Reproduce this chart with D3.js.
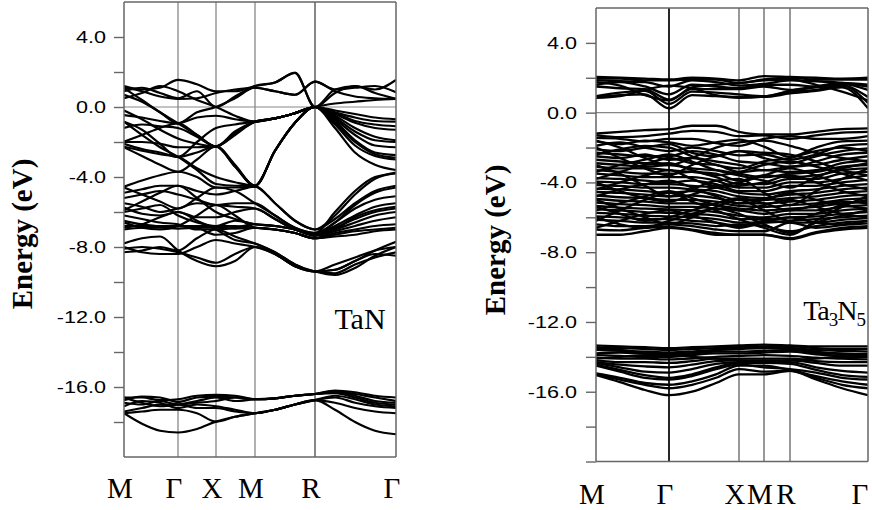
<!DOCTYPE html>
<html><head><meta charset="utf-8">
<script src="https://cdn.jsdelivr.net/npm/d3@7"></script>
<style>body{margin:0;background:#fff}svg{display:block}</style>
</head><body>
<svg id="c" width="872" height="510"></svg>
<script>
// ---------- DATA ----------
const energyDomain = [-20, 6];
const majorTicks = [4, 0, -4, -8, -12, -16];
const minorTicks = [2, -2, -6, -10, -14, -18];

// TaN : k-path M-Γ-X-M-R-Γ
const tanK = [0, 18, 36, 54, 73, 92, 111, 131, 151, 171, 191, 211, 231, 251, 272];
const tanSymK = [0, 54, 92, 131, 191, 272];
const tanSymLabels = ["M", "Γ", "X", "M", "R", "Γ"];
const tanUpperBands = [
  [1.2, 1.0, 1.1, 1.55, 1.3, 0.9, 0.9, 1.2, 1.4, 1.95, 0.0, 1.0, 1.2, 1.0, 1.55],
  [1.1, 0.9, 0.6, 0.46, 0.5, 0.8, 1.0, 1.1, 0.9, 0.7, 1.45, 1.0, 1.1, 1.2, 0.84],
  [0.9, 1.1, 0.8, 0.5, 0.9, 0.0, 0.6, 1.2, 1.4, 1.95, 0.0, 0.8, 1.2, 0.8, 0.46],
  [0.7, 0.3, -0.3, -0.93, -0.3, 0.0, 0.5, 1.1, 0.9, 0.7, 1.45, 0.9, 0.6, 0.5, 0.46],
  [1.07, 0.4, -0.3, -0.93, -1.6, -2.25, -1.5, -0.84, -0.65, -0.35, 0.0, -0.3, -0.6, -0.8, -0.84],
  [-0.46, -0.6, -0.8, -0.93, -0.6, -0.5, -0.7, -0.84, -0.65, -0.35, 0.0, -0.4, -0.9, -1.2, -1.3],
  [-0.84, -1.3, -2.1, -2.85, -2.0, -1.2, -1.0, -0.84, -0.65, -0.35, 0.0, -0.5, -1.2, -1.7, -1.9],
  [-1.2, -1.0, -1.1, -1.2, -1.7, -2.25, -1.6, -0.84, -0.65, -0.35, 0.0, -0.6, -1.4, -1.9, -2.0],
  [-2.0, -2.0, -2.1, -2.3, -2.3, -2.25, -3.4, -4.5, -2.5, -0.9, 0.0, -0.8, -1.9, -2.6, -2.75],
  [-2.27, -2.5, -2.7, -2.85, -3.5, -4.0, -4.3, -4.5, -2.5, -0.9, 0.0, -1.0, -2.2, -2.8, -3.0],
  [-2.1, -2.4, -2.6, -2.85, -2.6, -2.25, -3.3, -4.5, -2.5, -0.9, 0.0, -1.2, -2.6, -3.3, -3.6],
  [-1.98, -1.6, -1.2, -0.93, -1.6, -2.25, -1.5, -0.84, -0.65, -0.35, 0.0, -0.2, -0.4, -0.6, -0.7],
  [-0.2, -0.7, -1.3, -1.8, -2.1, -2.25, -1.4, -0.84, -0.65, -0.35, 0.0, -0.35, -0.8, -1.0, -1.1],
  [-2.3, -2.8, -3.3, -3.7, -3.0, -2.25, -3.4, -4.5, -2.5, -0.9, 0.0, -0.9, -2.0, -2.7, -2.9],
  [-0.84, -1.6, -2.3, -2.85, -3.6, -4.4, -4.5, -4.5, -2.5, -0.9, 0.0, -0.7, -1.6, -2.2, -2.3],
  [0.5, 0.8, 1.2, 0.9, 0.4, 0.0, -0.5, -0.84, -0.65, -0.35, 0.0, 0.2, 0.3, 0.4, 0.46]
];
const tanMiddleBands = [
  [-4.55, -4.2, -3.9, -3.7, -4.0, -4.6, -4.6, -4.55, -5.5, -6.5, -7.0, -6.2, -5.0, -4.1, -3.75],
  [-4.9, -4.7, -4.5, -4.5, -4.8, -5.0, -4.8, -4.55, -5.5, -6.5, -7.0, -6.4, -5.5, -4.8, -4.5],
  [-5.2, -5.0, -4.8, -5.0, -5.3, -5.6, -5.5, -5.5, -6.2, -6.9, -7.2, -6.6, -5.8, -5.3, -5.1],
  [-5.5, -5.7, -6.0, -5.8, -5.5, -5.6, -5.7, -5.8, -6.4, -7.0, -7.3, -6.8, -6.2, -5.7, -5.5],
  [-5.75, -6.1, -6.2, -6.0, -6.3, -6.3, -6.0, -5.8, -6.4, -7.0, -7.3, -6.9, -6.4, -6.0, -5.8],
  [-6.0, -5.8, -5.6, -6.2, -6.6, -6.8, -6.5, -6.7, -6.8, -7.0, -7.35, -7.0, -6.6, -6.2, -6.0],
  [-6.2, -6.4, -6.6, -6.7, -7.0, -7.0, -6.9, -6.7, -6.8, -7.0, -7.35, -7.1, -6.8, -6.5, -6.3],
  [-6.5, -6.7, -6.8, -6.8, -6.9, -7.3, -7.2, -6.9, -7.0, -7.2, -7.5, -7.2, -7.0, -6.8, -6.7],
  [-6.8, -6.8, -6.8, -6.8, -6.8, -6.8, -6.8, -6.9, -7.0, -7.2, -7.5, -7.3, -7.1, -7.0, -6.9],
  [-6.9, -6.7, -6.3, -6.0, -6.5, -7.0, -7.6, -7.8, -8.3, -9.0, -9.4, -9.6, -9.2, -8.5, -8.0],
  [-7.8, -7.5, -7.4, -8.2, -8.8, -9.1, -8.8, -8.0, -8.4, -9.1, -9.4, -9.5, -9.0, -8.6, -8.3],
  [-8.0, -8.3, -8.4, -8.4, -8.0, -7.6, -7.8, -8.0, -8.4, -9.1, -9.4, -9.3, -8.8, -8.4, -8.5],
  [-8.3, -8.2, -8.0, -8.2, -7.5, -7.0, -7.4, -7.8, -8.3, -9.0, -9.4, -9.3, -8.8, -8.2, -7.7],
  [-4.6, -5.0, -5.4, -5.8, -5.2, -4.6, -4.8, -5.5, -6.2, -6.9, -7.2, -6.0, -4.8, -4.0, -3.8],
  [-5.9, -5.4, -4.9, -4.5, -5.2, -6.0, -6.4, -6.7, -6.8, -7.0, -7.35, -6.6, -5.6, -4.9, -4.6],
  [-6.6, -6.9, -7.0, -6.8, -6.2, -5.6, -6.2, -6.9, -7.0, -7.2, -7.5, -7.0, -6.3, -5.9, -5.7],
  [-7.0, -6.9, -6.9, -6.95, -6.9, -6.9, -6.95, -6.9, -7.0, -7.2, -7.5, -7.4, -7.3, -7.1, -7.0],
  [-8.1, -8.0, -8.1, -8.3, -8.6, -8.9, -8.4, -8.0, -8.4, -9.1, -9.4, -9.0, -8.6, -8.2, -8.0]
];
const tanLowerBands = [
  [-16.6, -16.6, -16.75, -16.7, -16.5, -16.45, -16.5, -16.7, -16.65, -16.5, -16.4, -16.2, -16.3, -16.5, -16.6],
  [-16.75, -16.55, -16.6, -16.85, -16.6, -16.55, -16.6, -16.7, -16.65, -16.5, -16.4, -16.25, -16.4, -16.6, -16.8],
  [-16.9, -17.0, -16.8, -17.0, -16.9, -16.8, -16.6, -16.7, -16.65, -16.5, -16.4, -16.3, -16.5, -16.8, -16.9],
  [-17.1, -16.8, -16.9, -17.2, -17.0, -17.1, -17.3, -17.5, -17.3, -17.0, -16.75, -16.5, -16.7, -17.0, -17.1],
  [-17.4, -17.2, -17.0, -17.0, -17.2, -17.2, -17.4, -17.5, -17.3, -17.0, -16.75, -16.6, -16.9, -17.1, -17.2],
  [-17.5, -17.4, -17.3, -17.3, -17.5, -17.98, -17.7, -17.5, -17.3, -17.0, -16.75, -16.9, -17.2, -17.4, -17.5],
  [-17.5, -18.1, -18.5, -18.6, -18.4, -17.98, -17.7, -17.5, -17.3, -17.0, -16.75, -17.3, -18.0, -18.5, -18.7],
  [-16.6, -16.9, -17.1, -17.0, -16.8, -16.6, -16.8, -16.7, -16.65, -16.5, -16.4, -16.35, -16.6, -16.9, -17.0]
];

// Ta3N5 : k-path M-Γ-X-M-R-Γ
const ta3n5K = [0, 24, 49, 73, 96, 120, 143, 168, 194, 220, 246, 272];
const ta3n5SymK = [0, 73, 143, 168, 194, 272];
const ta3n5SymLabels = ["M", "Γ", "X", "M", "R", "Γ"];
const ta3n5ConductionBands = [
  [2.05, 2.0, 1.95, 1.9, 2.0, 1.95, 1.85, 2.1, 2.05, 2.0, 1.95, 2.0],
  [1.95, 1.95, 1.85, 1.85, 1.9, 1.9, 1.7, 1.9, 2.0, 1.9, 1.9, 1.9],
  [1.85, 1.8, 1.75, 1.5, 1.85, 1.75, 1.55, 1.65, 1.85, 1.8, 1.7, 1.5],
  [1.6, 1.75, 1.5, 1.05, 1.6, 1.5, 1.4, 1.6, 1.6, 1.5, 1.65, 1.3],
  [1.5, 1.4, 1.35, 0.75, 1.35, 1.35, 1.35, 1.5, 1.3, 1.45, 1.55, 0.9],
  [0.95, 1.15, 1.25, 0.5, 1.2, 1.15, 1.05, 0.95, 1.2, 1.3, 1.55, 0.55],
  [0.9, 1.0, 1.05, 0.25, 1.0, 0.95, 0.9, 0.9, 1.1, 1.25, 1.45, 0.25],
  [0.85, 0.95, 1.3, 1.55, 1.4, 1.0, 0.85, 0.92, 1.25, 1.5, 1.7, 1.6],
  [1.75, 1.55, 1.0, 0.7, 1.45, 1.6, 1.7, 1.85, 1.9, 1.6, 1.2, 0.7]
];
const ta3n5ValenceBands = [
  [-1.2, -1.1, -1.0, -0.95, -0.75, -0.75, -1.1, -1.25, -1.25, -1.1, -0.95, -0.9],
  [-1.3, -1.4, -1.35, -1.2, -1.05, -1.1, -1.35, -1.3, -1.5, -1.3, -1.15, -1.1],
  [-1.45, -1.5, -1.65, -1.5, -1.5, -1.75, -1.9, -1.5, -1.35, -1.5, -1.5, -1.35],
  [-1.65, -1.8, -1.6, -1.7, -1.9, -1.7, -1.55, -1.95, -2.55, -2.0, -1.65, -1.6],
  [-1.9, -1.7, -2.0, -2.2, -2.0, -2.2, -2.45, -2.4, -2.7, -2.4, -1.9, -1.8],
  [-2.1, -2.2, -2.0, -1.8, -2.3, -2.5, -2.2, -2.6, -2.9, -2.5, -2.2, -2.05],
  [-2.3, -2.4, -2.5, -2.5, -2.2, -2.4, -2.8, -2.9, -3.1, -2.8, -2.4, -2.3],
  [-2.5, -2.6, -2.4, -2.7, -2.6, -2.8, -3.0, -3.3, -3.1, -3.0, -2.7, -2.5],
  [-2.7, -2.8, -2.9, -2.6, -2.9, -3.0, -3.4, -3.3, -3.4, -3.3, -2.9, -2.75],
  [-2.9, -3.0, -3.1, -3.0, -3.2, -3.3, -3.5, -3.7, -3.5, -3.4, -3.1, -3.0],
  [-3.1, -3.2, -3.2, -3.3, -3.4, -3.5, -3.9, -3.6, -3.7, -3.6, -3.3, -3.2],
  [-3.3, -3.4, -3.5, -3.5, -3.4, -3.7, -4.1, -4.1, -3.8, -3.8, -3.5, -3.4],
  [-3.5, -3.6, -3.7, -3.7, -3.7, -3.9, -4.3, -4.3, -4.0, -4.0, -3.8, -3.6],
  [-3.75, -3.8, -3.9, -4.0, -3.9, -4.1, -4.5, -4.5, -4.2, -4.2, -4.0, -3.85],
  [-3.95, -4.0, -4.1, -4.1, -4.2, -4.3, -4.6, -4.7, -4.5, -4.4, -4.2, -4.1],
  [-4.15, -4.2, -4.3, -4.3, -4.4, -4.5, -4.8, -4.9, -4.7, -4.6, -4.4, -4.3],
  [-4.35, -4.4, -4.5, -4.6, -4.5, -4.7, -5.0, -5.0, -4.9, -4.8, -4.6, -4.5],
  [-4.55, -4.6, -4.7, -4.8, -4.75, -4.9, -5.2, -5.2, -5.1, -5.0, -4.8, -4.7],
  [-4.75, -4.85, -4.9, -5.0, -5.0, -5.1, -5.35, -5.4, -5.3, -5.2, -5.0, -4.9],
  [-4.95, -5.05, -5.1, -5.2, -5.2, -5.3, -5.5, -5.6, -5.5, -5.4, -5.2, -5.1],
  [-5.15, -5.25, -5.3, -5.4, -5.4, -5.5, -5.6, -5.8, -5.6, -5.6, -5.4, -5.3],
  [-5.35, -5.45, -5.5, -5.55, -5.6, -5.7, -5.9, -6.0, -5.8, -5.8, -5.6, -5.5],
  [-5.55, -5.6, -5.7, -5.75, -5.8, -5.9, -6.1, -6.1, -6.0, -5.95, -5.8, -5.7],
  [-5.75, -5.8, -5.9, -5.95, -6.0, -6.1, -6.3, -6.3, -6.2, -6.1, -6.0, -5.9],
  [-5.95, -6.0, -6.1, -6.1, -6.2, -6.3, -6.5, -6.2, -6.3, -6.3, -6.15, -6.05],
  [-6.15, -6.2, -6.3, -6.3, -6.35, -6.5, -6.4, -6.5, -6.8, -6.5, -6.3, -6.2],
  [-6.4, -6.5, -6.5, -6.4, -6.5, -6.7, -6.8, -6.8, -6.3, -6.6, -6.45, -6.35],
  [-6.7, -6.75, -6.6, -6.55, -6.7, -6.9, -7.0, -7.0, -7.2, -6.85, -6.6, -6.5],
  [-7.0, -7.0, -6.8, -6.6, -6.75, -7.0, -7.0, -7.0, -7.25, -6.9, -6.7, -6.6],
  [-2.0, -2.6, -3.2, -3.6, -3.0, -2.5, -2.2, -2.3, -2.4, -2.8, -3.3, -3.6],
  [-4.4, -4.0, -3.6, -3.3, -3.8, -4.2, -4.0, -3.6, -3.2, -3.6, -4.1, -4.4],
  [-6.2, -5.6, -5.0, -4.6, -5.1, -5.6, -6.1, -6.6, -7.0, -6.2, -5.4, -4.8],
  [-5.0, -5.5, -6.0, -6.4, -6.0, -5.4, -5.0, -5.6, -6.2, -5.8, -5.3, -5.0],
  [-3.0, -3.5, -4.2, -4.8, -4.4, -3.9, -3.8, -4.6, -5.3, -4.5, -3.8, -3.2],
  [-1.6, -2.0, -2.6, -3.0, -2.6, -2.0, -1.7, -1.6, -1.9, -2.3, -2.6, -2.8],
  [-2.4, -2.1, -1.9, -2.0, -2.5, -3.0, -3.2, -2.8, -2.6, -2.2, -2.0, -2.2],
  [-3.4, -3.0, -2.7, -2.4, -2.8, -3.3, -3.6, -3.9, -4.3, -3.7, -3.2, -2.9],
  [-4.0, -4.5, -4.9, -5.1, -4.7, -4.3, -4.2, -4.0, -3.6, -4.0, -4.5, -4.8],
  [-4.8, -4.4, -4.1, -3.9, -4.3, -4.8, -5.2, -5.0, -4.6, -5.0, -5.3, -5.5],
  [-5.6, -5.2, -4.8, -4.5, -4.9, -5.3, -5.6, -5.3, -5.0, -5.4, -5.8, -6.0],
  [-6.0, -6.4, -6.6, -6.2, -5.8, -5.5, -5.8, -6.4, -6.9, -6.3, -5.9, -5.6],
  [-6.6, -6.2, -5.8, -5.6, -5.9, -6.3, -6.6, -6.3, -6.0, -6.3, -6.4, -6.2],
  [-3.8, -3.4, -3.0, -2.9, -3.3, -3.6, -3.4, -3.0, -2.8, -3.1, -3.5, -3.9],
  [-5.4, -5.8, -6.2, -6.0, -5.6, -5.2, -4.9, -5.2, -5.6, -5.3, -5.1, -5.2]
];
const ta3n5SemicoreBands = [
  [-13.35, -13.4, -13.45, -13.5, -13.45, -13.4, -13.35, -13.3, -13.35, -13.4, -13.4, -13.4],
  [-13.5, -13.5, -13.55, -13.6, -13.55, -13.5, -13.45, -13.4, -13.4, -13.5, -13.55, -13.55],
  [-13.6, -13.65, -13.7, -13.75, -13.7, -13.6, -13.55, -13.5, -13.5, -13.6, -13.65, -13.7],
  [-13.8, -13.75, -13.8, -13.85, -13.8, -13.7, -13.7, -13.65, -13.6, -13.75, -13.8, -13.85],
  [-13.9, -13.95, -14.0, -14.0, -13.9, -13.8, -13.8, -13.75, -13.7, -13.85, -13.95, -14.0],
  [-14.05, -14.1, -14.1, -14.15, -14.1, -14.0, -13.95, -13.9, -13.95, -14.05, -14.1, -14.15],
  [-14.2, -14.3, -14.3, -14.35, -14.25, -14.1, -14.1, -14.1, -14.1, -14.25, -14.3, -14.3],
  [-14.3, -14.45, -14.55, -14.6, -14.45, -14.25, -14.2, -14.2, -14.2, -14.35, -14.5, -14.5],
  [-14.35, -14.6, -14.85, -14.9, -14.7, -14.4, -14.3, -14.3, -14.3, -14.6, -14.8, -14.9],
  [-14.45, -14.75, -15.05, -15.2, -15.0, -14.6, -14.35, -14.35, -14.4, -14.75, -15.05, -15.15],
  [-14.5, -14.85, -15.2, -15.3, -15.1, -14.7, -14.45, -14.6, -14.7, -14.9, -15.2, -15.3],
  [-14.95, -15.2, -15.5, -15.6, -15.4, -15.0, -14.5, -14.5, -14.75, -15.1, -15.4, -15.6],
  [-15.0, -15.3, -15.6, -15.8, -15.6, -15.2, -14.7, -14.85, -14.8, -15.2, -15.6, -15.8],
  [-15.05, -15.45, -15.9, -16.2, -16.0, -15.5, -15.0, -15.0, -14.8, -15.3, -15.8, -16.2],
  [-13.45, -13.6, -13.8, -13.9, -13.8, -13.6, -13.5, -13.45, -13.5, -13.7, -13.85, -13.9],
  [-14.1, -14.0, -13.9, -13.9, -14.0, -14.1, -14.2, -14.3, -14.2, -14.1, -14.0, -14.0]
];

// ---------- DRAWING ----------
const svg = d3.select("#c");
const font = "'Liberation Sans', Arial, sans-serif";
const serif = "'Liberation Serif', 'Times New Roman', serif";

function drawPanel(o) {
  const x = d3.scaleLinear().domain([0, 272]).range([o.x0, o.x1]);
  const y = d3.scaleLinear().domain(energyDomain).range([o.yb, o.yt]);
  const g = svg.append("g");
  const clipId = "clip" + o.id;
  svg.append("clipPath").attr("id", clipId).append("rect")
    .attr("x", o.x0).attr("y", o.yt).attr("width", o.x1 - o.x0).attr("height", o.yb - o.yt);

  g.append("line").attr("x1", o.x0).attr("x2", o.x1).attr("y1", y(0)).attr("y2", y(0))
    .attr("stroke", "#888").attr("stroke-width", 1.1);

  o.symK.slice(1, -1).forEach((k, i) => {
    g.append("line").attr("x1", x(k)).attr("x2", x(k)).attr("y1", o.yt).attr("y2", o.yb)
      .attr("stroke", o.symColors[i]).attr("stroke-width", o.symWidths[i]);
  });

  const line = d3.line().x((d, i) => x(o.k[i])).y(d => y(d)).curve(d3.curveMonotoneX);
  g.append("g").attr("clip-path", `url(#${clipId})`)
    .selectAll("path").data(o.bands).join("path")
    .attr("d", line).attr("fill", "none").attr("stroke", "#000")
    .attr("stroke-width", o.lw).attr("stroke-linejoin", "round");

  const fr = g.append("g").attr("stroke", "#666").attr("stroke-width", 1.5).attr("fill", "none");
  fr.append("line").attr("x1", o.x0).attr("x2", o.x0).attr("y1", o.yt).attr("y2", o.yb);
  fr.append("line").attr("x1", o.x1).attr("x2", o.x1).attr("y1", o.yt).attr("y2", o.yb);
  fr.append("line").attr("x1", o.x0).attr("x2", o.x1).attr("y1", o.yb).attr("y2", o.yb);
  fr.append("line").attr("x1", o.x0).attr("x2", o.x1).attr("y1", o.yt).attr("y2", o.yt);

  const tv = majorTicks.concat(minorTicks).concat(o.extraTicks);
  const ax = d3.axisLeft(y).tickValues(tv).tickSize(10).tickPadding(o.pad)
    .tickFormat(d => majorTicks.includes(d) ? d.toFixed(1) : "");
  const ag = svg.append("g").attr("transform", `translate(${o.x0},0)`).call(ax);
  ag.select(".domain").remove();
  ag.selectAll(".tick line").attr("stroke", "#666").attr("stroke-width", 1.4);
  ag.selectAll(".tick text").attr("fill", "#000").style("font-family", font).style("font-size", "17px")
    .each(function () {
      const w = this.getComputedTextLength();
      if (w > 0) d3.select(this).attr("textLength", w * 1.27).attr("lengthAdjust", "spacingAndGlyphs");
    });

  svg.append("text").attr("transform", `translate(${o.ylabX},${o.ylabY}) rotate(-90)`)
    .attr("text-anchor", "middle").style("font-family", serif).style("font-weight", "bold")
    .style("font-size", "29px").text("Energy (eV)");

  o.symLabels.forEach((s, i) => {
    svg.append("text").attr("x", Math.min(x(o.symK[i]) - 4, 860)).attr("y", o.labY)
      .attr("text-anchor", "middle").style("font-family", serif).style("font-size", "29px").text(s);
  });
  return { x, y };
}

drawPanel({
  id: "L", x0: 124, x1: 396, yt: 2, yb: 457, k: tanK, symK: tanSymK, symLabels: tanSymLabels,
  bands: tanUpperBands.concat(tanMiddleBands, tanLowerBands), lw: 2.2,
  symColors: ["#888", "#888", "#888", "#111"], symWidths: [1.3, 1.3, 1.3, 1],
  extraTicks: [], pad: 8, ylabX: 32, ylabY: 234, labY: 498
});
drawPanel({
  id: "R", x0: 596, x1: 868, yt: 8, yb: 461.5, k: ta3n5K, symK: ta3n5SymK, symLabels: ta3n5SymLabels,
  bands: ta3n5ConductionBands.concat(ta3n5ValenceBands, ta3n5SemicoreBands), lw: 2.3,
  symColors: ["#000", "#444", "#444", "#444"], symWidths: [1.7, 1.1, 1.1, 1.1],
  extraTicks: [-20], pad: 9, ylabX: 505, ylabY: 240, labY: 504
});

svg.append("text").attr("x", 360).attr("y", 329).attr("text-anchor", "middle")
  .style("font-family", serif).style("font-size", "30px").text("TaN");
const t = svg.append("text").attr("x", 865).attr("y", 320).attr("text-anchor", "end")
  .style("font-family", serif).style("font-size", "28px").style("letter-spacing", "-1px");
t.append("tspan").text("Ta");
t.append("tspan").attr("dy", 6).style("font-size", "19px").text("3");
t.append("tspan").attr("dy", -6).text("N");
t.append("tspan").attr("dy", 6).style("font-size", "19px").text("5");
</script>
</body></html>
